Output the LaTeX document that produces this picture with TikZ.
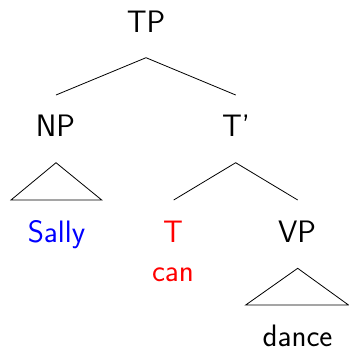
\documentclass[tikz,border=0pt]{standalone}
\usepackage{fontspec}
\begin{document}
\begin{tikzpicture}[x=1pt,y=-1pt,
  lbl/.style={anchor=base,inner sep=0pt,font=\sffamily\fontsize{31}{37}\selectfont},
  branch/.style={draw=black,line width=0.8pt,line join=miter},
  blue lbl/.style={lbl,text=blue},
  red lbl/.style={lbl,text=red}]
  \useasboundingbox (0,0) rectangle (349,349);
  % labels
  \node[lbl] (TP) at (146,32.3) {TP};
  \node[lbl] (NP) at (55.5,136.7) {NP};
  \node[lbl] (Tbar) at (236,136.7) {T’};
  \node[blue lbl] (Sally) at (56.5,242.7) {Sally};
  \node[red lbl] (T) at (173,242.7) {T};
  \node[red lbl] (can) at (173,281) {can};
  \node[lbl] (VP) at (297,242.7) {VP};
  \node[lbl] (dance) at (297.5,346.5) {dance};
  % branch points
  \coordinate (tp-top) at (146,57.7);
  \coordinate (tp-l) at (56,95);
  \coordinate (tp-r) at (235.7,95);
  \coordinate (np-top) at (56,162.7);
  \coordinate (np-l) at (11,200);
  \coordinate (np-r) at (101.7,200);
  \coordinate (tb-top) at (235.7,162.7);
  \coordinate (tb-l) at (173.7,200);
  \coordinate (tb-r) at (297.7,200);
  \coordinate (vp-top) at (297.7,268.3);
  \coordinate (vp-l) at (245.7,305);
  \coordinate (vp-r) at (348.5,305);
  % branches
  \draw[branch] (tp-l) -- (tp-top) -- (tp-r);
  \draw[branch] (tb-l) -- (tb-top) -- (tb-r);
  % triangles
  \draw[branch] (np-l) -- (np-top) -- (np-r) -- cycle;
  \draw[branch] (vp-l) -- (vp-top) -- (vp-r) -- cycle;
\end{tikzpicture}
\end{document}
